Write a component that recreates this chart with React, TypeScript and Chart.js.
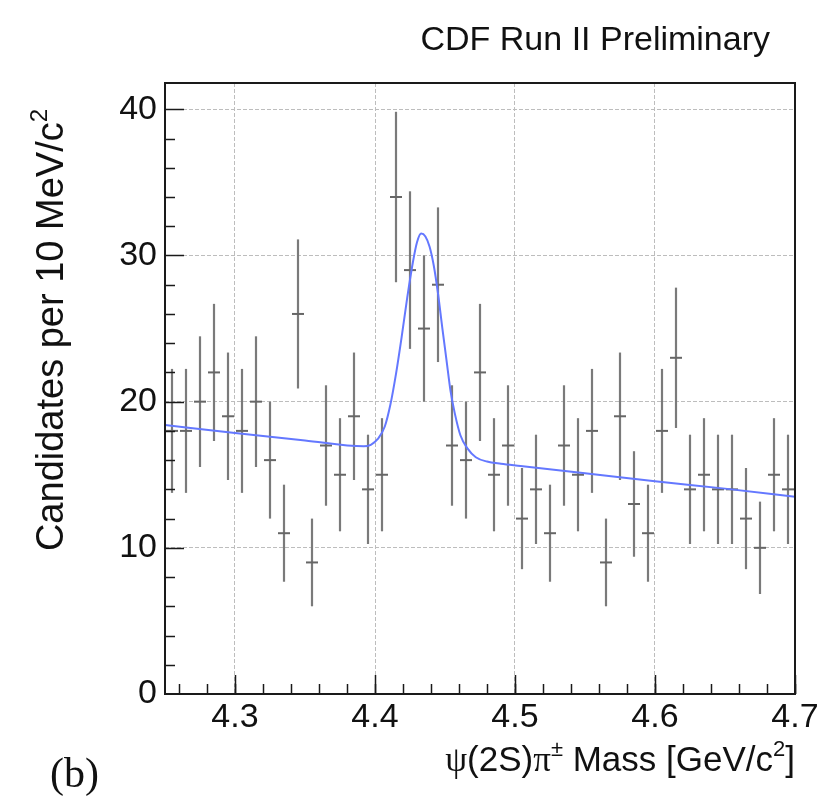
import { useEffect, useRef } from "react";
import { Chart, registerables } from "chart.js";

Chart.register(...registerables);

// ---- data ----
const binCenters = [
  4.255, 4.265, 4.275, 4.285, 4.295, 4.305, 4.315, 4.325, 4.335, 4.345,
  4.355, 4.365, 4.375, 4.385, 4.395, 4.405, 4.415, 4.425, 4.435, 4.445,
  4.455, 4.465, 4.475, 4.485, 4.495, 4.505, 4.515, 4.525, 4.535, 4.545,
  4.555, 4.565, 4.575, 4.585, 4.595, 4.605, 4.615, 4.625, 4.635, 4.645,
  4.655, 4.665, 4.675, 4.685, 4.695,
];
const counts = [
  18, 18, 20, 22, 19, 18, 20, 16, 11, 26,
  9, 17, 15, 19, 14, 15, 34, 29, 25, 28,
  17, 16, 22, 15, 17, 12, 14, 11, 17, 15,
  18, 9, 19, 13, 11, 18, 23, 14, 15, 14,
  14, 12, 10, 15, 14,
];
const countErrors = [
  4.24, 4.24, 4.47, 4.69, 4.36, 4.24, 4.47, 4.0, 3.32, 5.1,
  3.0, 4.12, 3.87, 4.36, 3.74, 3.87, 5.83, 5.39, 5.0, 5.29,
  4.12, 4.0, 4.69, 3.87, 4.12, 3.46, 3.74, 3.32, 4.12, 3.87,
  4.24, 3.0, 4.36, 3.61, 3.32, 4.24, 4.8, 3.74, 3.87, 3.74,
  3.74, 3.46, 3.16, 3.87, 3.74,
];
const fitMass = [
  4.25, 4.3, 4.35, 4.392, 4.397, 4.402, 4.407, 4.411, 4.415, 4.419,
  4.423, 4.427, 4.43, 4.433, 4.436, 4.439, 4.442, 4.445, 4.448, 4.451,
  4.454, 4.457, 4.461, 4.466, 4.472, 4.48, 4.49, 4.504, 4.55, 4.6,
  4.65, 4.7,
];
const fitValues = [
  18.4, 17.85, 17.35, 16.95, 17.05, 17.45, 18.3, 19.8, 21.9, 24.4,
  27.1, 29.5, 30.9, 31.5, 31.3, 30.6, 29.3, 27.4, 25.1, 22.9,
  20.7, 19.2, 17.7, 16.8, 16.2, 15.9, 15.75, 15.6, 15.1, 14.55,
  14.05, 13.5,
];
const xTickValues = [4.3, 4.4, 4.5, 4.6, 4.7];
const yTickValues = [0, 10, 20, 30, 40];
const xRange = [4.25, 4.7];
const yRange = [0, 41.8];

const SANS = "'Liberation Sans', Arial, Helvetica, sans-serif";
const SERIF = "'Liberation Serif', 'Times New Roman', serif";

type Part = { t: string; sup?: boolean; serif?: boolean };

function drawRich(
  ctx: CanvasRenderingContext2D,
  parts: Part[],
  x: number,
  y: number,
  align: "left" | "right" | "center",
  size: number
) {
  const fontFor = (p: Part) =>
    `${p.sup ? Math.round(size * 0.62) : size}px ${p.serif ? SERIF : SANS}`;
  const widths = parts.map((p) => {
    ctx.font = fontFor(p);
    return ctx.measureText(p.t).width;
  });
  const total = widths.reduce((a, b) => a + b, 0);
  let cx = align === "right" ? x - total : align === "center" ? x - total / 2 : x;
  ctx.textAlign = "left";
  ctx.textBaseline = "alphabetic";
  parts.forEach((p, i) => {
    ctx.font = fontFor(p);
    ctx.fillText(p.t, cx, p.sup ? y - size * 0.42 : y);
    cx += widths[i];
  });
}

const errorBarPlugin = {
  id: "errorBars",
  beforeDatasetsDraw(chart: any) {
    const { ctx, scales, chartArea } = chart;
    const xs = scales.x;
    const ys = scales.y;
    ctx.save();
    ctx.beginPath();
    ctx.rect(chartArea.left, chartArea.top, chartArea.right - chartArea.left, chartArea.bottom - chartArea.top);
    ctx.clip();
    ctx.strokeStyle = "#7a7a7a";
    ctx.lineWidth = 2.2;
    binCenters.forEach((m, i) => {
      const px = Math.round(xs.getPixelForValue(m));
      const y1 = ys.getPixelForValue(counts[i] - countErrors[i]);
      const y2 = ys.getPixelForValue(counts[i] + countErrors[i]);
      ctx.beginPath();
      ctx.moveTo(px, y1);
      ctx.lineTo(px, y2);
      ctx.stroke();
    });
    ctx.restore();
  },
};

const framePlugin = {
  id: "rootFrame",
  afterDraw(chart: any) {
    const { ctx, scales, chartArea } = chart;
    const xs = scales.x;
    const ys = scales.y;
    const { left, right, top, bottom } = chartArea;
    ctx.save();
    ctx.fillStyle = "#111111";
    ctx.strokeStyle = "#1a1a1a";

    // ticks inside frame
    ctx.lineWidth = 1.5;
    for (let k = 0; k <= 22; k++) {
      const v = 4.26 + k * 0.02;
      if (v > xRange[1] + 1e-9) break;
      const px = Math.round(xs.getPixelForValue(v)) + 0.5;
      ctx.beginPath();
      ctx.moveTo(px, bottom);
      ctx.lineTo(px, bottom - 10);
      ctx.stroke();
    }
    xTickValues.forEach((v) => {
      const px = Math.round(xs.getPixelForValue(v)) + 0.5;
      ctx.beginPath();
      ctx.moveTo(px, bottom);
      ctx.lineTo(px, bottom - 19);
      ctx.stroke();
    });
    for (let v = 2; v < yRange[1]; v += 2) {
      const py = Math.round(ys.getPixelForValue(v)) + 0.5;
      const major = v % 10 === 0;
      ctx.beginPath();
      ctx.moveTo(left, py);
      ctx.lineTo(left + (major ? 19 : 10), py);
      ctx.stroke();
    }

    // frame
    ctx.lineWidth = 2;
    ctx.strokeRect(left, top, right - left, bottom - top);

    // x-axis title
    drawRich(
      ctx,
      [
        { t: "\u03c8", serif: true },
        { t: "(2S)" },
        { t: "\u03c0", serif: true },
        { t: "\u00b1", sup: true },
        { t: " Mass [GeV/c" },
        { t: "2", sup: true },
        { t: "]" },
      ],
      right,
      771,
      "right",
      35
    );

    // y-axis title
    ctx.save();
    ctx.translate(63, 330);
    ctx.rotate(-Math.PI / 2);
    drawRich(
      ctx,
      [{ t: "Candidates per 10 MeV/c" }, { t: "2", sup: true }],
      0,
      0,
      "center",
      38
    );
    ctx.restore();

    // header
    drawRich(ctx, [{ t: "CDF Run II Preliminary" }], 770, 50, "right", 34);

    // panel label
    ctx.font = `42px ${SERIF}`;
    ctx.textAlign = "left";
    ctx.textBaseline = "alphabetic";
    ctx.fillText("(b)", 50, 787);

    ctx.restore();
  },
};

export default function App() {
  const canvasRef = useRef<HTMLCanvasElement | null>(null);

  useEffect(() => {
    if (!canvasRef.current) return;
    const tickFont = { family: SANS, size: 34 };
    const chart = new Chart(canvasRef.current, {
      type: "scatter",
      data: {
        datasets: [
          {
            type: "line",
            label: "fit",
            data: fitMass.map((m, i) => ({ x: m, y: fitValues[i] })),
            borderColor: "rgb(100,120,255)",
            borderWidth: 2,
            pointRadius: 0,
            cubicInterpolationMode: "monotone",
            fill: false,
            order: 1,
          } as any,
          {
            type: "scatter",
            label: "data",
            data: binCenters.map((m, i) => ({ x: m, y: counts[i] })),
            pointStyle: "line",
            pointRadius: 6,
            borderColor: "#666666",
            borderWidth: 2,
            backgroundColor: "#666666",
            order: 2,
          } as any,
        ],
      },
      options: {
        responsive: false,
        maintainAspectRatio: false,
        animation: false,
        layout: { padding: { top: 83, right: 34, left: 0, bottom: 0 } },
        plugins: {
          legend: { display: false },
          tooltip: { enabled: false },
          title: { display: false },
        },
        scales: {
          x: {
            type: "linear",
            min: xRange[0],
            max: xRange[1],
            afterBuildTicks: (ax: any) => {
              ax.ticks = xTickValues.map((v) => ({ value: v }));
            },
            afterFit: (ax: any) => {
              ax.height = 108;
            },
            grid: {
              drawTicks: false,
              lineWidth: 1,
              color: (c: any) =>
                c.tick && c.tick.value >= xRange[1] - 1e-9 ? "rgba(0,0,0,0)" : "#bdbdbd",
            },
            border: { display: false, dash: [4, 2] },
            ticks: {
              font: tickFont,
              color: "#111111",
              padding: 3,
              autoSkip: false,
              maxRotation: 0,
              callback: (v: any) => Number(v).toFixed(1),
            },
          },
          y: {
            type: "linear",
            min: yRange[0],
            max: yRange[1],
            afterBuildTicks: (ax: any) => {
              ax.ticks = yTickValues.map((v) => ({ value: v }));
            },
            afterFit: (ax: any) => {
              ax.width = 165;
            },
            grid: {
              drawTicks: false,
              lineWidth: 1,
              color: (c: any) =>
                c.tick && c.tick.value <= yRange[0] + 1e-9 ? "rgba(0,0,0,0)" : "#bdbdbd",
            },
            border: { display: false, dash: [4, 2] },
            ticks: {
              font: tickFont,
              color: "#111111",
              padding: 8,
              autoSkip: false,
              callback: (v: any) => String(v),
            },
          },
        },
      } as any,
      plugins: [errorBarPlugin, framePlugin],
    });
    return () => chart.destroy();
  }, []);

  return (
    <div
      style={{
        position: "absolute",
        left: 0,
        top: 0,
        width: 829,
        height: 802,
        background: "#ffffff",
      }}
    >
      <canvas ref={canvasRef} width={829} height={802} style={{ display: "block" }} />
    </div>
  );
}
